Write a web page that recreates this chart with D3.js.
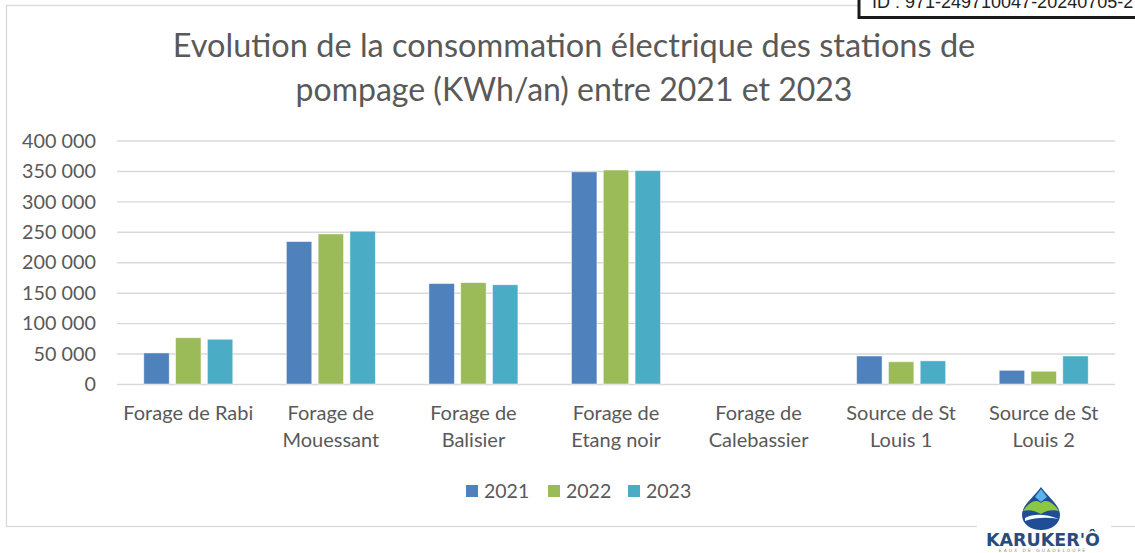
<!DOCTYPE html>
<html>
<head>
<meta charset="utf-8">
<script src="https://cdn.jsdelivr.net/npm/d3@7"></script>
<style>
  html, body { margin: 0; padding: 0; background: #fff; }
  svg { display: block; }
</style>
</head>
<body>
<svg id="chart" width="1135" height="553"></svg>
<script>
// Consumption of the pumping stations (kWh per year)
const categories = [
  ["Forage de Rabi"],
  ["Forage de", "Mouessant"],
  ["Forage de", "Balisier"],
  ["Forage de", "Etang noir"],
  ["Forage de", "Calebassier"],
  ["Source de St", "Louis 1"],
  ["Source de St", "Louis 2"]
];
const years = ["2021", "2022", "2023"];
const values2021 = [51000, 234000, 165000, 348500, 0, 46000, 22500];
const values2022 = [76000, 246500, 166500, 351500, 0, 36500, 21000];
const values2023 = [73500, 251000, 163000, 350500, 0, 38000, 46000];
const yTicks = [0, 50000, 100000, 150000, 200000, 250000, 300000, 350000, 400000];
const colors = ["#4F81BD", "#9BBB59", "#4BACC6"];
const titleLines = [
  "Evolution de la consommation électrique des stations de",
  "pompage (KWh/an) entre 2021 et 2023"
];
const stampText = "ID : 971-249710047-20240705-2";

const series = [values2021, values2022, values2023];
const FONT = "Lato, 'Open Sans', sans-serif";
const TEXT = "#595959";

const svg = d3.select("#chart");

// Fit a text element to a target width by adjusting its font size
function fitWidth(sel, target) {
  const node = sel.node();
  const size = parseFloat(sel.attr("font-size"));
  const w = node.getComputedTextLength();
  if (w > 0) sel.attr("font-size", (size * target / w).toFixed(2));
}

// Chart frame
svg.append("rect")
  .attr("x", 6.5).attr("y", 5.5)
  .attr("width", 1140).attr("height", 521)
  .attr("fill", "#fff").attr("stroke", "#d9d9d9").attr("stroke-width", 1.3);

// Title
const titleWidths = [803, 557];
const titleBaselines = [57, 101];
titleLines.forEach((t, i) => {
  const el = svg.append("text")
    .attr("x", 574).attr("y", titleBaselines[i])
    .attr("text-anchor", "middle")
    .attr("font-family", FONT).attr("font-size", 31)
    .attr("fill", TEXT).text(t);
  fitWidth(el, titleWidths[i]);
});

// Scales
const plot = { left: 117, right: 1115, top: 140.5, bottom: 384 };
const x0 = d3.scaleBand()
  .domain(d3.range(categories.length))
  .range([plot.left, plot.right])
  .paddingInner(0).paddingOuter(0);
const groupWidth = 89;
const x1 = d3.scaleBand()
  .domain(d3.range(years.length))
  .range([0, groupWidth])
  .paddingInner(0.2);
const y = d3.scaleLinear().domain([0, 400000]).range([plot.bottom, plot.top]);

// Grid lines and value axis
const fmt = v => d3.format(",")(v).replace(/,/g, " ");
const yAxis = d3.axisLeft(y).tickValues(yTicks).tickSize(-(plot.right - plot.left)).tickFormat(fmt);
const gy = svg.append("g").attr("transform", `translate(${plot.left},0)`).call(yAxis);
gy.select(".domain").remove();
gy.selectAll(".tick line").attr("stroke", "#d9d9d9").attr("stroke-width", 1.4);
gy.selectAll(".tick text")
  .attr("x", -21)
  .attr("dy", "0.34em")
  .attr("font-family", FONT).attr("font-size", 19.8)
  .attr("fill", TEXT);

// Bars
const groups = svg.append("g").selectAll("g")
  .data(categories.map((c, i) => i))
  .join("g")
  .attr("transform", i => `translate(${x0(i) + (x0.bandwidth() - groupWidth) / 2},0)`);

groups.selectAll("rect")
  .data(i => series.map((s, k) => ({ k, v: s[i] })))
  .join("rect")
  .filter(d => d.v > 0)
  .attr("x", d => x1(d.k))
  .attr("width", x1.bandwidth())
  .attr("y", d => y(d.v))
  .attr("height", d => y(0) - y(d.v))
  .attr("fill", d => colors[d.k])
  .attr("stroke", "#ffffff").attr("stroke-opacity", 0.6).attr("stroke-width", 0.8);

// Category labels
const xAxis = d3.axisBottom(x0).tickSize(0).tickFormat(() => "");
const gx = svg.append("g").attr("transform", `translate(0,${plot.bottom})`).call(xAxis);
gx.select(".domain").remove();
gx.selectAll(".tick").each(function (i) {
  const t = d3.select(this).append("text")
    .attr("text-anchor", "middle")
    .attr("font-family", FONT).attr("font-size", 20)
    .attr("fill", TEXT);
  categories[i].forEach((line, j) => {
    t.append("tspan").attr("x", 0).attr("y", 36 + j * 27).text(line);
  });
});

// Legend
const legendX = [466, 548, 628];
const legend = svg.append("g").selectAll("g")
  .data(years).join("g")
  .attr("transform", (d, k) => `translate(${legendX[k]},485)`);
legend.append("rect")
  .attr("width", 12).attr("height", 12)
  .attr("fill", (d, k) => colors[k]);
legend.append("text")
  .attr("x", 18).attr("y", 12.5)
  .attr("font-family", FONT).attr("font-size", 19.5)
  .attr("fill", TEXT).text(d => d);

// Identifier stamp
const stamp = svg.append("g");
stamp.append("rect")
  .attr("x", 859).attr("y", -10).attr("width", 300).attr("height", 27.5)
  .attr("fill", "#fff").attr("stroke", "#1a1a1a").attr("stroke-width", 3);
stamp.append("text")
  .attr("x", 872).attr("y", 8)
  .attr("font-family", "'Liberation Sans', Arial, sans-serif").attr("font-size", 18)
  .attr("fill", "#222").text(stampText);

// Karuker'O logo
const logo = svg.append("g");
logo.append("rect").attr("x", 977).attr("y", 486).attr("width", 134).attr("height", 67).attr("fill", "#fff");
logo.append("path")
  .attr("d", "M1041,487 C1034,497 1022,505 1022,515 C1022,524 1031,530 1041,530 C1051,530 1060,524 1060,515 C1060,505 1048,497 1041,487 Z")
  .attr("fill", "#1f4e96");
logo.append("path")
  .attr("d", "M1023,511 C1030,501 1036,499 1041,503 C1046,499 1052,501 1059,511 C1052,509 1045,511 1041,514 C1035,511 1029,509 1023,511 Z")
  .attr("fill", "#8dc63f");
logo.append("path")
  .attr("d", "M1041,489 L1047,497 L1041,502 L1035,497 Z")
  .attr("fill", "#5ab4e5");
logo.append("path")
  .attr("d", "M1025,518 C1034,513 1046,514 1059,519 C1048,517 1036,517 1025,521 Z")
  .attr("fill", "#ffffff");
const brand = logo.append("text")
  .attr("x", 1043).attr("y", 546)
  .attr("text-anchor", "middle")
  .attr("font-family", "'DejaVu Sans', sans-serif").attr("font-weight", "bold").attr("font-size", 15)
  .attr("fill", "#2a4c7a").text("KARUKER'Ô");
fitWidth(brand, 114);
logo.append("text")
  .attr("x", 1043).attr("y", 552)
  .attr("text-anchor", "middle")
  .attr("font-family", "'DejaVu Sans', sans-serif").attr("font-size", 4.5)
  .attr("letter-spacing", 2)
  .attr("fill", "#8a8a8a").text("EAUX DE GUADELOUPE");
</script>
</body>
</html>
